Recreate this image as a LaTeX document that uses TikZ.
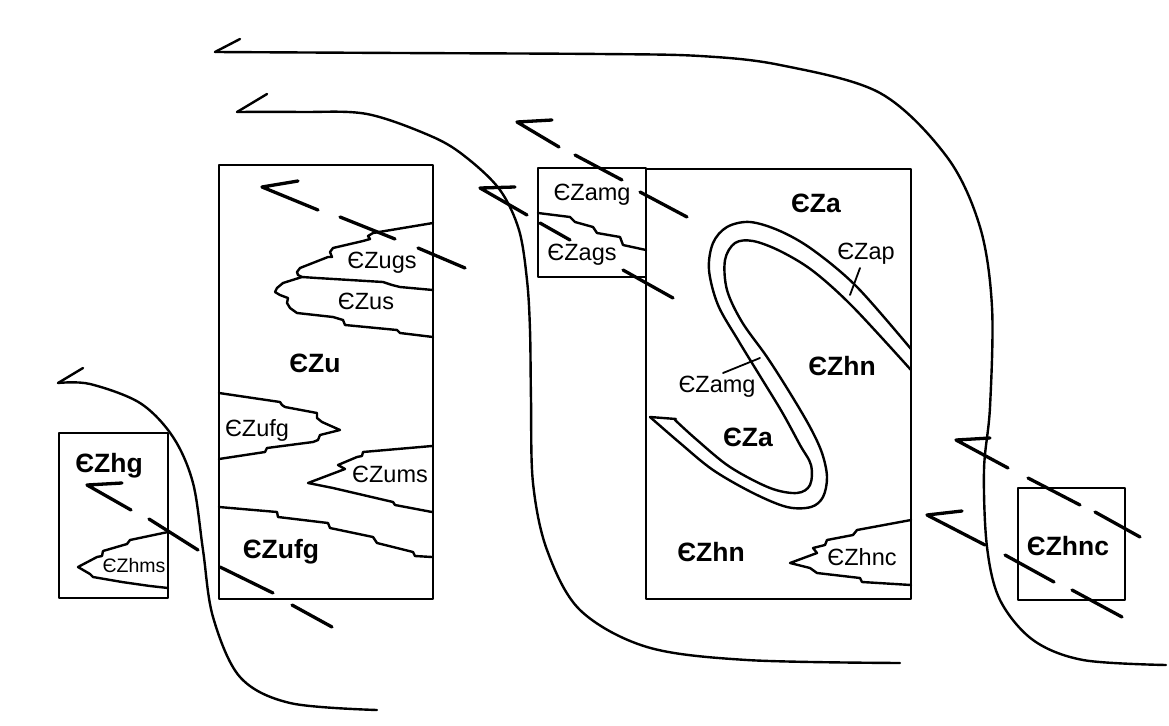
\documentclass[tikz,border=0pt]{standalone}
\usepackage{fontspec}
\setmainfont{Liberation Sans}
\begin{document}
\begin{tikzpicture}[x=1pt,y=-1pt, line cap=round, line join=round,
  ln/.style={line width=2.4pt},
  boxline/.style={line width=2.8pt},
  lin/.style={line width=3.3pt},
  big/.style={inner sep=0pt, font=\fontsize{26.5}{30}\selectfont\bfseries},
  med/.style={inner sep=0pt, font=\fontsize{23.5}{26}\selectfont},
  sml/.style={inner sep=0pt, font=\fontsize{19.5}{22}\selectfont}]
\fill[white] (0,0) rectangle (1169,725);
\useasboundingbox (0,0) rectangle (1169,725);

% ---------- boxes ----------
\draw[boxline] (219,165) rectangle (433,599);
\draw[boxline] (59,433) rectangle (168,598);
\draw[boxline] (538,168) rectangle (646,277);
\draw[boxline] (646,169) rectangle (911,599);
\draw[boxline] (1018,488) rectangle (1125,600);

% ---------- large fold traces ----------
\draw[ln] plot[smooth, tension=0.55] coordinates {(215,52) (400,53) (600,54) (700,56) (780,65) (880,93) (947,157) (980,227) (992,307) (990,407) (984,470) (987,547) (1000,600) (1033,640) (1083,660) (1166,665)};
\draw[ln] (215,52) -- (240,39);

\draw[ln] plot[smooth, tension=0.55] coordinates {(237,112) (300,112) (367,114) (433,137) (467,158) (500,190) (519,230) (527,280) (530,330) (531,400) (533,483) (547,550) (580,610) (647,647) (747,660) (900,663)};
\draw[ln] (237,112) -- (267,94);

\draw[ln] plot[smooth, tension=0.55] coordinates {(58,383) (90,384) (140,403) (173,437) (193,483) (203,550) (213,617) (240,677) (290,703) (377,710)};
\draw[ln] (58,383) -- (83,368);

% ---------- lineations (dashed with half arrows) ----------
\draw[lin] (298,181) -- (262,187) -- (318,210);
\draw[lin] (340,217) -- (395,239);
\draw[lin] (418,248) -- (465,268);

\draw[lin] (515,187) -- (480,188) -- (527,215);
\draw[lin] (540,223) -- (570,240);
\draw[lin] (623,270) -- (673,298);

\draw[lin] (552,120) -- (517,122) -- (559,147);
\draw[lin] (575,155) -- (622,180);
\draw[lin] (640,192) -- (687,217);

\draw[lin] (122,483) -- (87,485) -- (131,510);
\draw[lin] (149,519) -- (198,550);
\draw[lin] (220,567) -- (273,593);
\draw[lin] (292,605) -- (332,627);

\draw[lin] (990,438) -- (956,440) -- (1008,468);
\draw[lin] (1028,478) -- (1080,505);
\draw[lin] (1095,512) -- (1140,537);

\draw[lin] (962,511) -- (927,515) -- (985,545);
\draw[lin] (1005,555) -- (1054,582);
\draw[lin] (1072,590) -- (1122,617);

% ---------- jagged contacts, Zu box ----------
\draw[ln] (433,223) -- (373,233) -- (368,236) -- (370,239) -- (363,241) -- (333,248) -- (330,252) -- (332,257) -- (328,257) -- (300,268) -- (297,272) -- (298,275) -- (302,277);
\draw[ln] (302,277) -- (317,278) -- (383,282) -- (392,285) -- (400,287) -- (433,290);
\draw[ln] (302,277) -- (283,283) -- (277,288) -- (275,292) -- (280,295) -- (288,298) -- (287,303) -- (290,308) -- (297,313) -- (333,317) -- (343,320) -- (345,325) -- (397,330) -- (400,333) -- (433,337);

\draw[ln] (219,393) -- (280,402) -- (282,405) -- (285,407) -- (317,413) -- (317,418) -- (322,422) -- (340,430) -- (320,435) -- (318,440) -- (313,442) -- (267,448) -- (265,452) -- (219,459);

\draw[ln] (432,446) -- (363,452) -- (362,456) -- (357,457) -- (338,465) -- (345,469) -- (308,483) -- (333,488) -- (393,502) -- (395,505) -- (432,512);

\draw[ln] (219,507) -- (277,512) -- (278,517) -- (328,523) -- (330,528) -- (373,537) -- (377,543) -- (413,552) -- (415,556) -- (432,557);

% ---------- Zhms lens ----------
\draw[ln] (168,532) -- (130,540) -- (127,544) -- (103,551) -- (102,556) -- (97,557) -- (78,567) -- (90,574) -- (93,577) -- (122,582) -- (150,586) -- (168,588);

% ---------- Zamg / Zags contact ----------
\draw[ln] (538,213) -- (570,217) -- (575,222) -- (593,227) -- (597,233) -- (620,237) -- (623,245) -- (646,250);

% ---------- Zhnc lens ----------
\draw[ln] (911,520) -- (857,530) -- (853,535) -- (827,540) -- (825,545) -- (813,548) -- (817,553) -- (790,563) -- (810,568) -- (817,573) -- (860,578) -- (862,582) -- (911,585);

% ---------- S-shaped fold band ----------
\draw[ln] plot[smooth, tension=0.55] coordinates {(911,349) (857,287) (813,250) (780,231) (750,222) (727,227) (713,243) (709,270) (718,305) (738,340) (760,376) (782,412) (800,445) (811,465) (810,485) (797,493) (770,488) (730,467) (697,440) (675,420)};
\draw[ln] plot[smooth, tension=0.55] coordinates {(911,370) (853,307) (813,271) (780,251) (753,241) (735,243) (725,260) (727,290) (742,322) (767,357) (790,393) (810,427) (822,453) (827,477) (823,497) (811,507) (787,507) (753,493) (713,470) (680,443) (650,417)};
\draw[ln] (650,417) -- (676,419);
% leaders
\draw[line width=1.8pt] (860,268) -- (850,295);
\draw[line width=1.8pt] (723,373) -- (760,358);

% ---------- labels ----------
\node[big] at (816,203) {ЄZa};
\node[big] at (842,366) {ЄZhn};
\node[big] at (748,437) {ЄZa};
\node[big] at (711,552) {ЄZhn};
\node[med] at (862,557) {ЄZhnc};
\node[med] at (866,254) {ЄZap};
\node[med] at (717,387) {ЄZamg};
\node[med] at (592,195) {ЄZamg};
\node[med] at (582,255) {ЄZags};
\node[med] at (382,263) {ЄZugs};
\node[med] at (366,301) {ЄZus};
\node[big] at (315,363) {ЄZu};
\node[med] at (257,430) {ЄZufg};
\node[med] at (390,474) {ЄZums};
\node[big] at (281,552) {ЄZufg};
\node[big] at (109,466) {ЄZhg};
\node[sml] at (134,566) {ЄZhms};
\node[big] at (1068,546) {ЄZhnc};
\end{tikzpicture}
\end{document}
